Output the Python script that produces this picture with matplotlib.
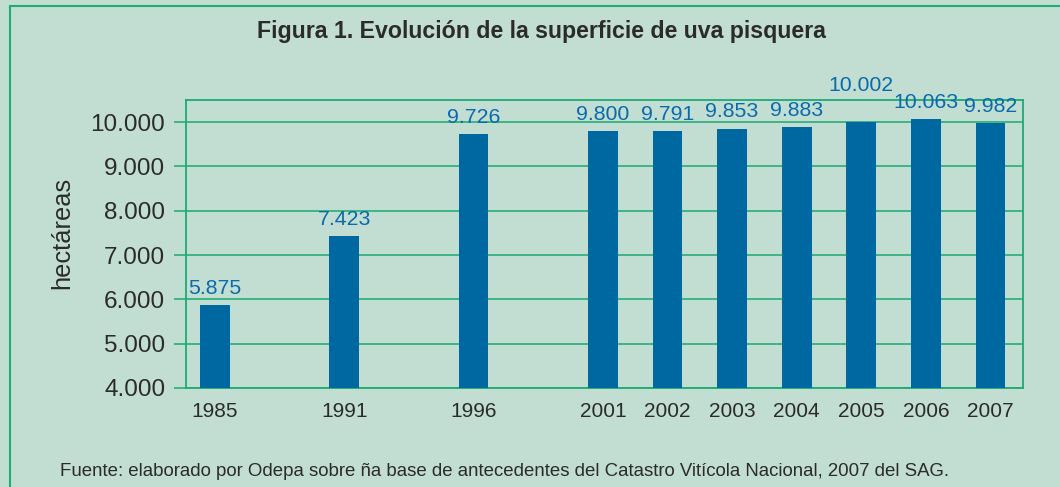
import matplotlib
matplotlib.use('Agg')

import matplotlib.pyplot as plt
from matplotlib.patches import Rectangle

plt.rcParams['font.family'] = ['Liberation Sans', 'DejaVu Sans']

# data
years = ['1985', '1991', '1996', '2001', '2002', '2003', '2004', '2005', '2006', '2007']
hectares = [5875, 7423, 9726, 9800, 9791, 9853, 9883, 10002, 10063, 9982]
labels = ['5.875', '7.423', '9.726', '9.800', '9.791', '9.853', '9.883', '10.002', '10.063', '9.982']
y_ticks = [4000, 5000, 6000, 7000, 8000, 9000, 10000]
y_tick_labels = ['4.000', '5.000', '6.000', '7.000', '8.000', '9.000', '10.000']

# gaps of several years get two slots, single years one
xpos = [0, 2, 4, 6, 7, 8, 9, 10, 11, 12]

bg = '#c2ded2'
frame = '#1eab74'
grid = '#3db585'
bar_col = '#0068a0'
lab_col = '#0a6aab'
txt = '#2b2b2b'

fig = plt.figure(figsize=(10.6, 4.87), dpi=100, facecolor=bg)
ax = fig.add_axes([0.1755, 0.2033, 0.965 - 0.1755, 0.7947 - 0.2033])
ax.set_facecolor(bg)

ax.bar(xpos, hectares, width=0.46, color=bar_col, zorder=3)

for i in range(len(xpos)):
	extra = 14 if years[i] == '2005' else 0  # raised so it clears its neighbours
	ax.annotate(labels[i], (xpos[i], hectares[i]), xytext=(0, 12 + extra),
		textcoords='offset points', ha='center', va='center',
		fontsize=15.3, color=lab_col, zorder=4)

ax.set_xlim(-0.45, 12.5)
ax.set_ylim(4000, 10500)
ax.set_yticks(y_ticks)
ax.set_yticklabels(y_tick_labels)
ax.set_xticks(xpos)
ax.set_xticklabels(years)

ax.yaxis.grid(True, color=grid, linewidth=1.4, zorder=0)
ax.set_axisbelow(True)
for s in ax.spines.values():
	s.set_color(frame)
	s.set_linewidth(1.3)

ax.tick_params(axis='y', length=9, width=1.4, color=grid, pad=6, labelsize=17.5, labelcolor=txt)
ax.tick_params(axis='x', length=0, pad=10, labelsize=15, labelcolor=txt)

fig.text(0.0585, 0.522, 'hectáreas', rotation=90, ha='center', va='center', fontsize=18.3, color=txt)

fig.text(0.5104, 0.935, 'Figura 1. Evolución de la superficie de uva pisquera',
	ha='center', va='center', fontsize=16.7, fontweight='bold', color=txt)

fig.text(0.057, 0.032, 'Fuente: elaborado por Odepa sobre ña base de antecedentes del Catastro Vitícola Nacional, 2007 del SAG.',
	ha='left', va='center', fontsize=13.4, color=txt)

# outer box, runs off the right and bottom edges
fig.patches.append(Rectangle((10 / 1060, -0.2), 1.5, 1.2 - 6 / 487, transform=fig.transFigure,
	fill=False, edgecolor=frame, linewidth=1.5))

fig.savefig('out.png', dpi=100, facecolor=bg)
